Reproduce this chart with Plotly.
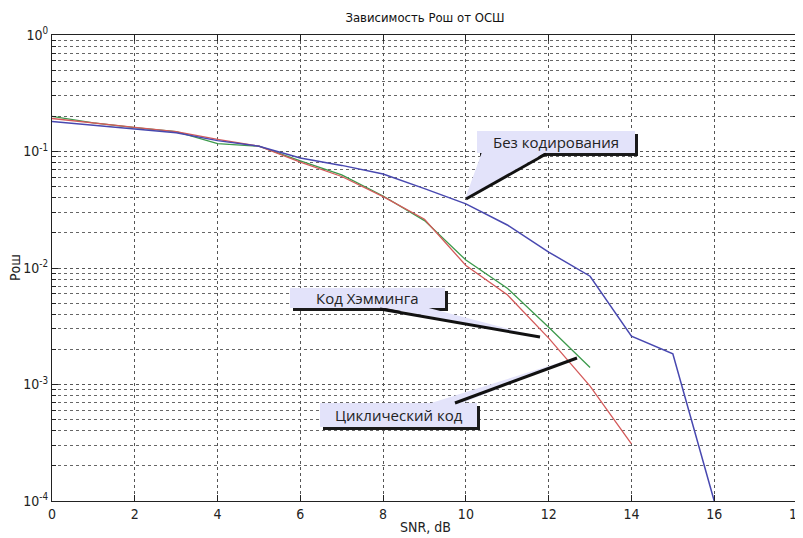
import plotly.graph_objects as go

snr = list(range(0, 17))
ber_uncoded = [0.181, 0.169, 0.156, 0.145, 0.124, 0.111, 0.088, 0.076, 0.064, 0.048, 0.0355, 0.0234, 0.0137, 0.0085, 0.0026, 0.00183, 0.0001]
snr_hamming = list(range(0, 14))
ber_hamming = [0.200, 0.176, 0.160, 0.148, 0.117, 0.111, 0.083, 0.063, 0.0415, 0.0255, 0.0117, 0.0067, 0.0031, 0.0014]
snr_cyclic = list(range(0, 15))
ber_cyclic = [0.192, 0.175, 0.161, 0.148, 0.127, 0.111, 0.081, 0.061, 0.0410, 0.0262, 0.0105, 0.0059, 0.0025, 0.00097, 0.00031]

ytick_vals = [1e-4, 1e-3, 1e-2, 1e-1, 1]
ytick_text = ["10<sup>-4</sup>", "10<sup>-3</sup>", "10<sup>-2</sup>", "10<sup>-1</sup>", "10<sup>0</sup>"]
minor_mult = [2, 3, 4, 5, 6, 7, 8, 9]
minor_vals = [m * d for d in ytick_vals[:-1] for m in minor_mult]

# page body has an 8px default margin; figure sized/offset to compensate
OFF = 8
W, H = 795, 530
ML, MR, MT, MB = 44, 6, 27, 37
PW, PH = W - ML - MR, H - MT - MB

def px(x):
    return (x - OFF - ML) / PW

def py(y):
    return (H - MB - (y - OFF)) / PH

fig = go.Figure()
fig.add_trace(go.Scatter(x=snr_hamming, y=ber_hamming, mode="lines",
                         line=dict(color="#3d9a4c", width=1.3), name="Код Хэмминга"))
fig.add_trace(go.Scatter(x=snr_cyclic, y=ber_cyclic, mode="lines",
                         line=dict(color="#d45a5a", width=1.3), name="Циклический код"))
fig.add_trace(go.Scatter(x=snr, y=ber_uncoded, mode="lines",
                         line=dict(color="#4848b0", width=1.5), name="Без кодирования"))

narrow = "Liberation Sans Narrow, Arial Narrow, DejaVu Sans Condensed, DejaVu Sans"
tickfont = dict(family=narrow, size=14, color="#222")

fig.update_layout(
    width=W, height=H,
    margin=dict(l=ML, r=MR, t=MT, b=MB, autoexpand=False),
    paper_bgcolor="white", plot_bgcolor="white",
    showlegend=False,
    title=dict(text="Зависимость Рош от ОСШ", x=(425 - OFF) / W, xanchor="center",
               y=1 - (17 - OFF) / H, yanchor="middle",
               font=dict(family=narrow, size=13, color="#111")),
)

fig.update_xaxes(
    range=[0, 18], dtick=2, tick0=0, automargin=False,
    showline=True, linecolor="#222", linewidth=1.2, mirror="ticks",
    ticks="inside", ticklen=6, tickcolor="#222",
    showgrid=True, gridcolor="#555", griddash="dot", gridwidth=1,
    zeroline=False,
    tickfont=tickfont, ticklabeloverflow="allow",
)
fig.update_yaxes(
    type="log", range=[-4, 0], automargin=False,
    tickvals=ytick_vals, ticktext=ytick_text,
    showline=True, linecolor="#222", linewidth=1.2, mirror="ticks",
    ticks="inside", ticklen=6, tickcolor="#222",
    showgrid=True, gridcolor="#555", griddash="dot", gridwidth=1,
    minor=dict(tickmode="array", tickvals=minor_vals, ticks="inside", ticklen=4, tickcolor="#222",
               showgrid=True, gridcolor="#666", griddash="dot", gridwidth=1),
    zeroline=False,
    tickfont=tickfont,
)

lav = "#e3e3fa"
shapes = []
annotations = []

annotations.append(dict(xref="paper", yref="paper", x=px(425), y=py(527), text="SNR, dB",
                        showarrow=False, xanchor="center", yanchor="middle", font=tickfont))
annotations.append(dict(xref="paper", yref="paper", x=px(15), y=py(268), text="Рош", textangle=-90,
                        showarrow=False, xanchor="center", yanchor="middle", font=tickfont))

def callout(box, wedge, line, text):
    x0, y0, x1, y1 = box
    shapes.append(dict(type="rect", xref="paper", yref="paper",
                       x0=px(x0 + 3), x1=px(x1 + 3), y0=py(y1 + 3), y1=py(y0 + 3),
                       fillcolor="#1a1a1a", line=dict(width=0), layer="above"))
    path = "M " + " L ".join(f"{px(a):.5f},{py(b):.5f}" for a, b in wedge) + " Z"
    shapes.append(dict(type="path", xref="paper", yref="paper", path=path,
                       fillcolor=lav, line=dict(width=0), layer="above"))
    shapes.append(dict(type="rect", xref="paper", yref="paper",
                       x0=px(x0), x1=px(x1), y0=py(y1), y1=py(y0),
                       fillcolor=lav, line=dict(width=0), layer="above"))
    (la, lb), (lc, ld) = line
    shapes.append(dict(type="line", xref="paper", yref="paper",
                       x0=px(la), y0=py(lb), x1=px(lc), y1=py(ld),
                       line=dict(color="#111", width=3), layer="above"))
    annotations.append(dict(xref="paper", yref="paper", x=px((x0 + x1) / 2), y=py((y0 + y1) / 2),
                            text=text, showarrow=False, xanchor="center", yanchor="middle",
                            font=dict(family="Open Sans, Noto Sans, sans-serif", size=15, color="#222")))

callout((477, 131, 635, 153), [(482, 152), (546, 152), (465, 199)], ((546, 154), (466, 199)), "Без кодирования")
callout((290, 288, 445, 308), [(380, 307), (425, 307), (540, 337)], ((380, 309), (540, 337)), "Код Хэмминга")
callout((320, 403, 477, 427), [(428, 404), (460, 404), (577, 357)], ((455, 403), (577, 358)), "Циклический код")

fig.update_layout(shapes=shapes, annotations=annotations)

fig.write_html("out.html")
